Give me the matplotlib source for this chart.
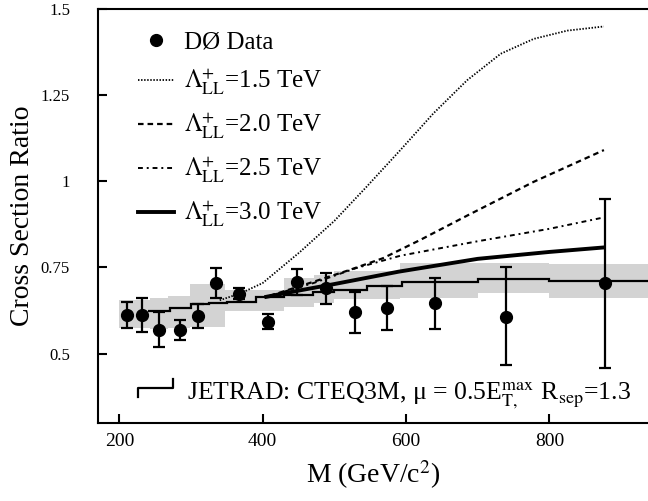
import matplotlib
matplotlib.use('Agg')
import matplotlib.pyplot as plt
from matplotlib.lines import Line2D
import numpy as np

plt.rcParams['font.family'] = ['Liberation Serif', 'DejaVu Serif']
plt.rcParams['mathtext.fontset'] = 'stix'

# D0 data points (mass, ratio, error bar ends)
mass = [210, 231, 256, 285, 310, 335, 367, 408, 448, 488, 529, 573, 640, 740, 877]
ratio = [0.613, 0.613, 0.569, 0.569, 0.610, 0.705, 0.673, 0.593, 0.708, 0.690,
         0.621, 0.633, 0.647, 0.607, 0.705]
bar_hi = [0.650, 0.662, 0.621, 0.598, 0.645, 0.749, 0.690, 0.616, 0.746, 0.735,
          0.680, 0.697, 0.720, 0.751, 0.948]
bar_lo = [0.575, 0.564, 0.520, 0.540, 0.575, 0.662, 0.659, 0.572, 0.670, 0.645,
          0.561, 0.569, 0.572, 0.468, 0.460]

# JETRAD prediction (step histogram)
jet_edges = [240, 270, 300, 325, 350, 390, 430, 470, 500, 545, 595, 700, 800, 940]
jet_vals = [0.623, 0.632, 0.644, 0.648, 0.651, 0.664, 0.671, 0.679, 0.685, 0.697,
            0.709, 0.717, 0.711]

# systematic band
band_edges = [199, 243, 268, 299, 348, 429, 471, 499, 592, 700, 800, 940]
band_lo = [0.575, 0.572, 0.575, 0.578, 0.624, 0.636, 0.647, 0.660, 0.662, 0.676, 0.662]
band_hi = [0.656, 0.662, 0.668, 0.702, 0.685, 0.720, 0.728, 0.740, 0.762, 0.762, 0.760]

# compositeness curves
m15 = [340, 370, 400, 452, 500, 545, 592, 638, 685, 732, 778, 825, 876]
r15 = [0.655, 0.676, 0.705, 0.795, 0.885, 0.984, 1.090, 1.196, 1.292, 1.369, 1.412, 1.436, 1.448]
m20 = [410, 470, 520, 568, 620, 685, 778, 876]
r20 = [0.668, 0.708, 0.742, 0.777, 0.830, 0.900, 0.998, 1.090]
m25 = [410, 471, 530, 592, 638, 700, 800, 876]
r25 = [0.668, 0.705, 0.748, 0.784, 0.802, 0.826, 0.862, 0.895]
m30 = [405, 450, 500, 590, 700, 800, 876]
r30 = [0.665, 0.683, 0.702, 0.738, 0.775, 0.795, 0.808]

fig = plt.figure(figsize=(6.48, 5.01), dpi=100)
ax = fig.add_axes([0.151, 0.156, 0.849, 0.827])

# band
be = np.array(band_edges)
lo = np.append(band_lo, band_lo[-1])
hi = np.append(band_hi, band_hi[-1])
ax.fill_between(be, lo, hi, step='post', color='#d3d3d3', lw=0, zorder=1)

ax.stairs(jet_vals, jet_edges, baseline=None, color='black', lw=1.6, zorder=2)

l15, = ax.plot(m15, r15, color='black', lw=1.3, ls=(0, (0.8, 0.9)), zorder=3)
l20, = ax.plot(m20, r20, color='black', lw=1.6, ls=(0, (2.5, 1.8)), zorder=3)
l25, = ax.plot(m25, r25, color='black', lw=1.4, ls=(0, (2.5, 2, 1, 2)), zorder=3)
l30, = ax.plot(m30, r30, color='black', lw=2.8, zorder=3)

yerr = [np.array(ratio) - np.array(bar_lo), np.array(bar_hi) - np.array(ratio)]
ax.errorbar(mass, ratio, yerr=yerr, fmt='o', color='black', ms=8.5,
            elinewidth=1.6, capsize=4.5, capthick=1.6, zorder=4)

dot = Line2D([], [], ls='none', marker='o', color='black', ms=8.5)
labels = ['DØ Data',
          r'$\Lambda^{+}_{\mathrm{LL}}$=1.5 TeV',
          r'$\Lambda^{+}_{\mathrm{LL}}$=2.0 TeV',
          r'$\Lambda^{+}_{\mathrm{LL}}$=2.5 TeV',
          r'$\Lambda^{+}_{\mathrm{LL}}$=3.0 TeV']
ax.legend([dot, l15, l20, l25, l30], labels,
          loc='upper left', frameon=False, fontsize=18,
          handlelength=1.45, handletextpad=0.4, labelspacing=0.55,
          borderaxespad=0.0, bbox_to_anchor=(0.054, 0.97))

# JETRAD key and label
ax.plot([0.073, 0.073, 0.136, 0.136], [0.063, 0.085, 0.085, 0.105],
        transform=ax.transAxes, color='black', lw=1.6, clip_on=False)
ax.text(0.162, 0.066, 'JETRAD: CTEQ3M, μ = 0.5E$_{\\mathrm{T},}^{\\mathrm{max}}$ R$_{\\mathrm{sep}}$=1.3',
        transform=ax.transAxes, fontsize=18.5, va='center', ha='left')

ax.set_xlim(170, 937.5)
ax.set_ylim(0.3, 1.5)
ax.set_xticks([200, 400, 600, 800])
ax.set_yticks([0.5, 0.75, 1.0, 1.25, 1.5])
ax.set_yticklabels(['0.5', '0.75', '1', '1.25', '1.5'])
ax.tick_params(direction='in', length=6.5, width=1.5)
ax.tick_params(axis='x', pad=7, labelsize=14)
ax.tick_params(axis='y', pad=20, labelsize=12)
ax.spines['right'].set_visible(False)
for s in ['left', 'top', 'bottom']:
    ax.spines[s].set_linewidth(1.5)

ax.set_xlabel(r'M (GeV/c$^2$)', fontsize=20, labelpad=6)
ax.set_ylabel('Cross Section Ratio', fontsize=20)
ax.yaxis.set_label_coords(-0.115, 0.5)

fig.savefig('out.png', dpi=100)
